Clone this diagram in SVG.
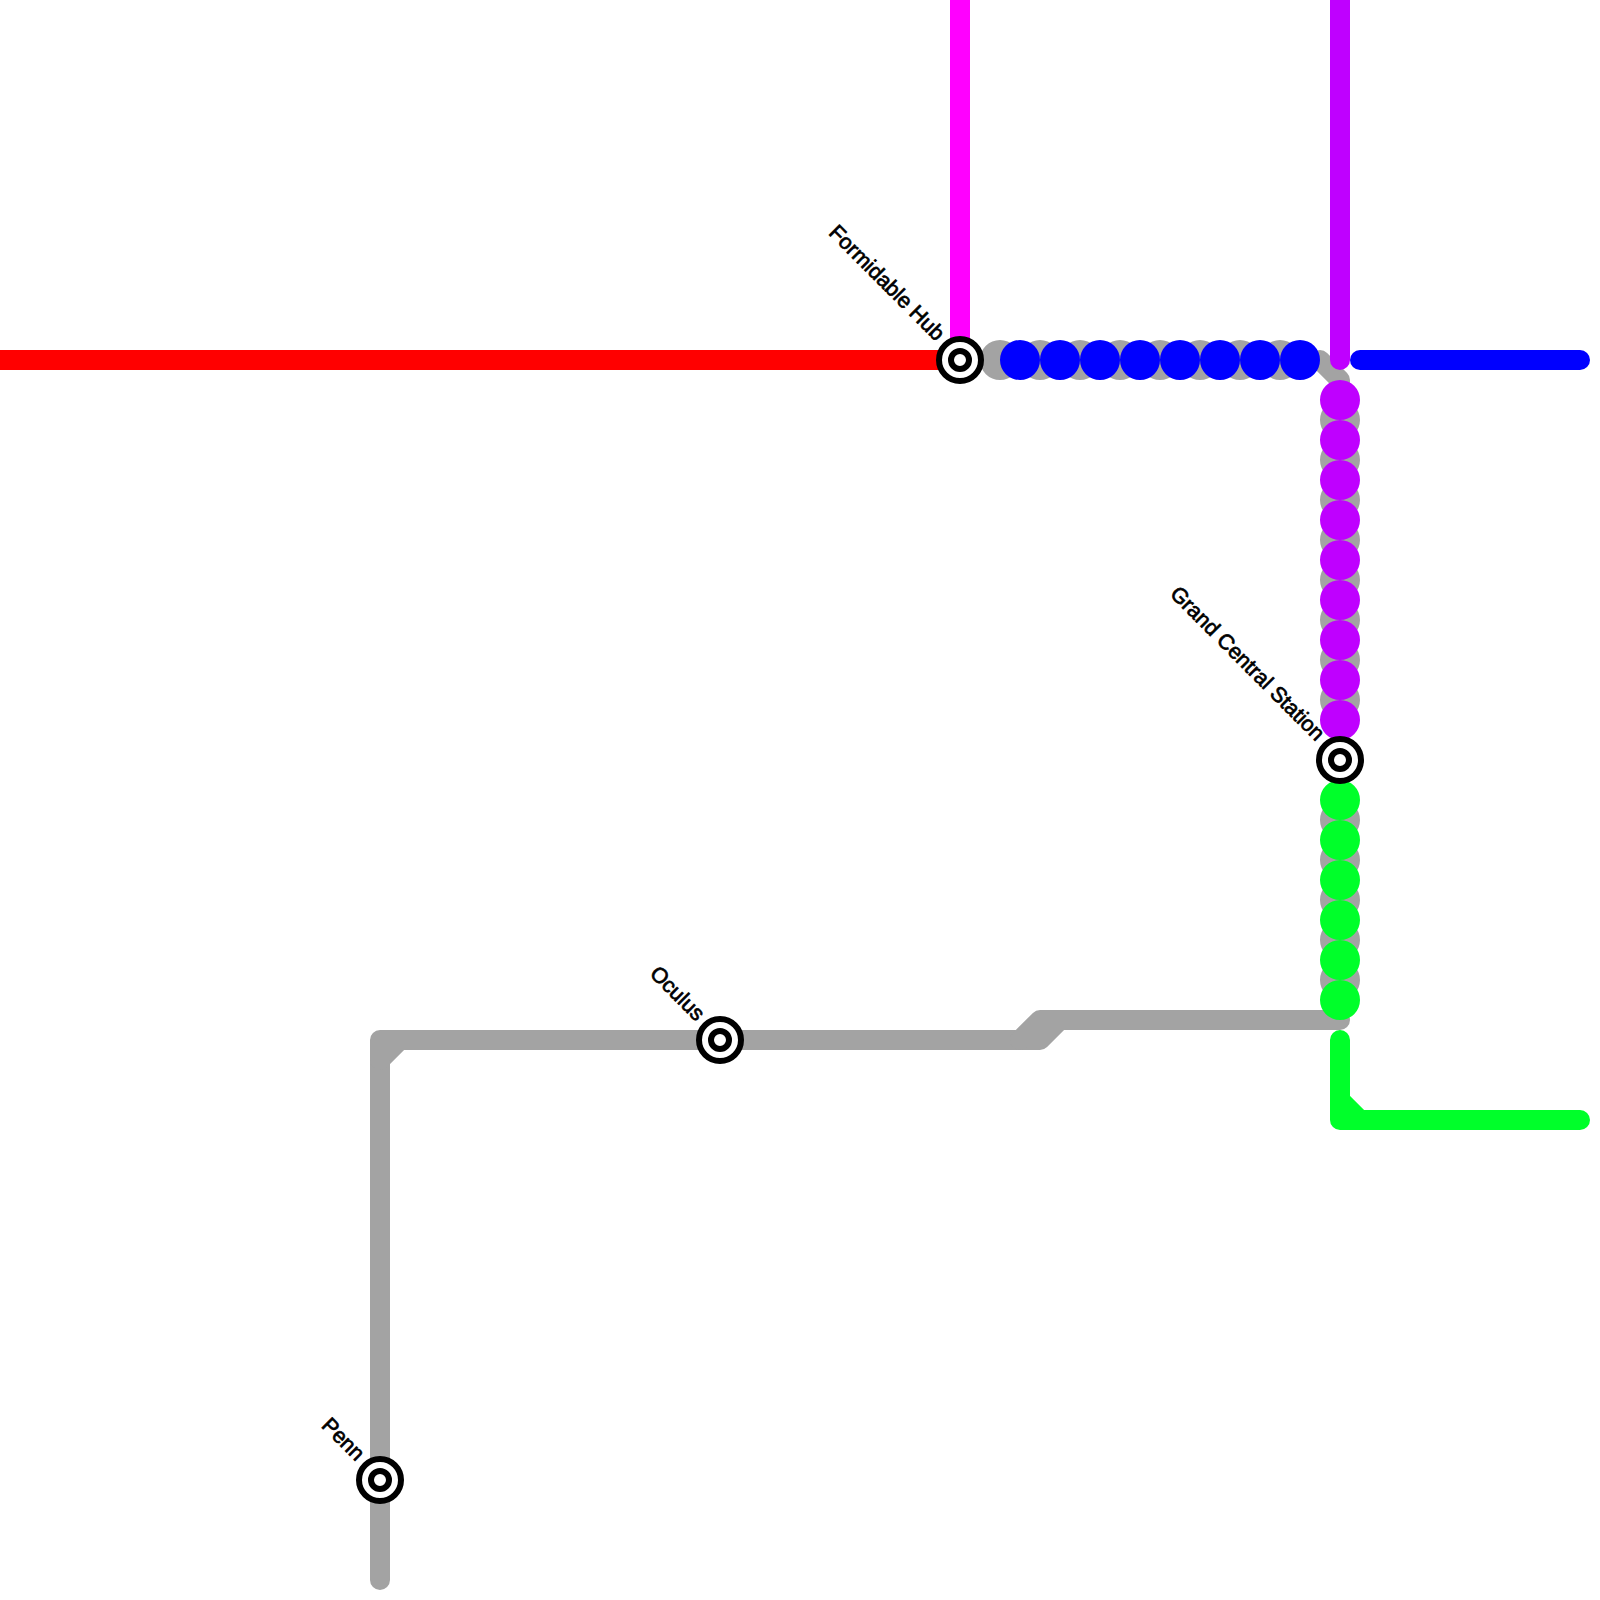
<svg xmlns="http://www.w3.org/2000/svg" width="1600" height="1600" viewBox="0 0 1600 1600">
<style>
.l{fill:none;stroke-width:20;stroke-linecap:round;stroke-linejoin:round}
.gray{stroke:#a3a3a3}.red{stroke:#f00}.mag{stroke:#f0f}.pur{stroke:#bf00ff}.blu{stroke:#00f}.grn{stroke:#00ff2a}
.dot{fill:none;stroke-width:40;stroke-linecap:round;stroke-dasharray:0 40}
.outer{fill:#fff;stroke:#000;stroke-width:6}
.inner{fill:#fff;stroke:#000;stroke-width:6}
text{font-family:"Liberation Sans",Arial,sans-serif;font-size:21.5px;text-anchor:end;fill:#000;stroke:#000;stroke-width:.7}
</style>
<g id="connectors">
<path class="l gray" d="M380 1580V1060L400 1040"/>
<path class="l gray" d="M380 1060V1040H1040L1060 1020"/>
<path class="l gray" d="M1020 1040L1040 1020H1340"/>
<path class="l gray" d="M1320 360L1340 380V400"/>
<path class="dot gray" d="M1000 360H1290"/>
<path class="dot gray" d="M1340 420V710"/>
<path class="dot gray" d="M1340 820V990"/>
<path class="l red" style="stroke-linecap:butt" d="M0 360H960"/>
<path class="l mag" style="stroke-linecap:butt" d="M960 0V360"/>
<path class="l pur" d="M1340 -20V360"/>
<path class="l blu" d="M1360 360H1580"/>
<path class="l grn" d="M1340 1040V1120H1580M1340 1100L1360 1120"/>
<path class="dot blu" d="M1020 360H1310"/>
<path class="dot pur" d="M1340 400V730"/>
<path class="dot grn" d="M1340 800V1010"/>
</g>
<g id="formidable-hub" transform="translate(960 360)"><circle class="outer" r="21"/><circle class="inner" r="9"/><text transform="translate(-24 -18) rotate(45)">Formidable Hub</text></g>
<g id="grand-central" transform="translate(1340 760)"><circle class="outer" r="21"/><circle class="inner" r="9"/><text transform="translate(-24 -18) rotate(45)">Grand Central Station</text></g>
<g id="oculus" transform="translate(720 1040)"><circle class="outer" r="21"/><circle class="inner" r="9"/><text transform="translate(-24 -18) rotate(45)">Oculus</text></g>
<g id="penn" transform="translate(380 1480)"><circle class="outer" r="21"/><circle class="inner" r="9"/><text transform="translate(-24 -18) rotate(45)">Penn</text></g>
</svg>
